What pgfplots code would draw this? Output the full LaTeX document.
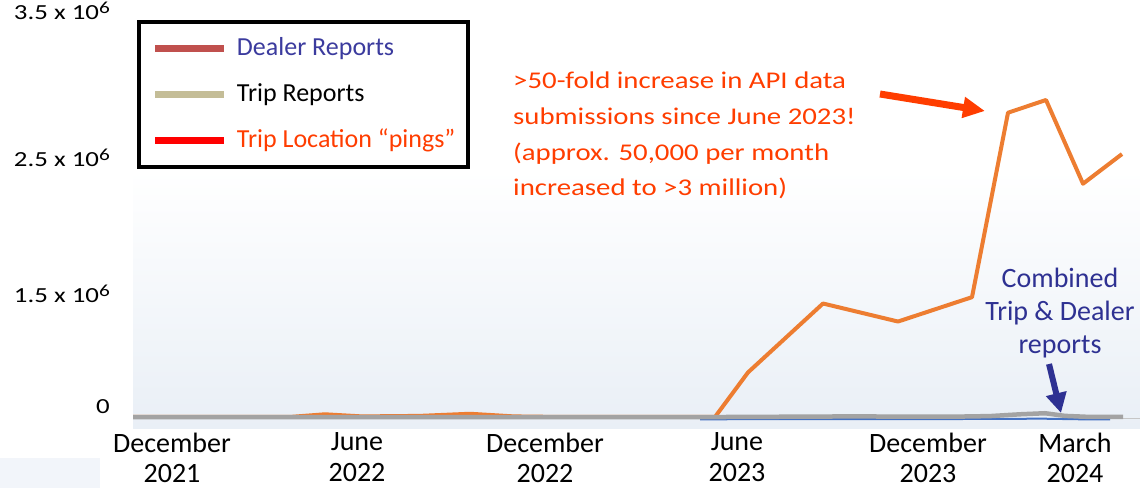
\documentclass[border=0pt]{standalone}
\usepackage{pgfplots}
\pgfplotsset{compat=1.18}
\usepackage{fontspec}
\setmainfont{Carlito}
\newfontfamily\ylabfont[FakeStretch=1.25]{Carlito}
\newfontfamily\annfont[FakeStretch=1.2]{Carlito}
\usetikzlibrary{arrows.meta}
\definecolor{orangeline}{HTML}{ED7D31}
\definecolor{grayline}{HTML}{A3A3A3}
\definecolor{blueline}{HTML}{4472C4}
\definecolor{dealerleg}{HTML}{C0504D}
\definecolor{tripleg}{HTML}{C4BD97}
\definecolor{pingleg}{HTML}{FF0000}
\definecolor{dealertext}{HTML}{3B3B9E}
\definecolor{annred}{HTML}{FF3D00}
\definecolor{combblue}{HTML}{2E3192}
\definecolor{bgblue}{HTML}{E9EFF6}
\begin{document}
\begin{tikzpicture}
\path[use as bounding box] (0pt,0pt) rectangle (1140pt,488pt);
\shade[top color=white, bottom color=bgblue] (133pt,318pt) rectangle (1140pt,60pt);
\fill[bgblue!60] (0pt,0pt) rectangle (100pt,30pt);
\begin{axis}[
  at={(133pt,66pt)}, anchor=south west,
  scale only axis, width=1007pt, height=412pt,
  xmin=133, xmax=1140, ymin=-0.0377, ymax=3.849,
  clip=false,
  axis line style={draw=none},
  major tick length=0pt, tick style={draw=none},
  xtick={172,357,545,737,928,1075},
  xticklabels={{December\\2021},{June\\2022},{December\\2022},{June\\2023},{December\\2023},{March\\2024}},
  xticklabel style={font=\fontsize{28}{30.5}\selectfont, align=center, anchor=north, inner sep=0pt, yshift=-10.5pt},
  ytick={0.047,1.085,2.368,3.755},
  yticklabels={{0\hspace{7pt}},{1.5 x 10\raisebox{6pt}{\fontsize{17}{17}\selectfont 6}},{2.5 x 10\raisebox{6pt}{\fontsize{17}{17}\selectfont 6}},{3.5 x 10\raisebox{6pt}{\fontsize{17}{17}\selectfont 6}}},
  yticklabel style={font=\ylabfont\fontsize{21.5}{21.5}\selectfont, anchor=base east, inner sep=0pt, xshift=-23pt},
  legend style={at={(0.00397,0.9757)}, anchor=north west, draw=black, line width=4pt, fill=white,
    inner xsep=13pt, inner ysep=14pt, row sep=21pt, font=\fontsize{26}{30}\selectfont,
    nodes={inner sep=0pt, text height=19pt, text depth=6pt},
    /tikz/every odd column/.append style={column sep=9pt}},
  legend cell align=left,
]
\addlegendimage{legend image code/.code={\draw[line width=7pt, dealerleg] (0pt,0pt) -- (69pt,0pt);}}
\addlegendentry{\textcolor{dealertext}{Dealer Reports}}
\addlegendimage{legend image code/.code={\draw[line width=7pt, tripleg] (0pt,0pt) -- (69pt,0pt);}}
\addlegendentry{\textcolor{black}{Trip Reports}}
\addlegendimage{legend image code/.code={\draw[line width=7pt, pingleg] (0pt,0pt) -- (69pt,0pt);}}
\addlegendentry{\textcolor{annred}{Trip Location “pings”}}

\draw[gray!45, line width=1pt] (axis cs:133,0) -- (axis cs:1140,0);
% Trip location pings
\addplot[forget plot, orangeline, line width=4pt, line join=round] coordinates {
 (133,0.01) (290,0.01) (325,0.035) (362,0.015) (420,0.02) (470,0.04) (514,0.015)
 (560,0.01) (715,0.01) (748,0.43) (823,1.08) (898,0.91) (972,1.14) (1008,2.88)
 (1046,3.00) (1083,2.21) (1122,2.49)};
% Dealer reports
\addplot[forget plot, blueline, line width=2pt] coordinates {
 (700,-0.012) (800,-0.011) (900,-0.010) (1000,-0.009) (1040,-0.006) (1080,-0.012) (1110,-0.012)};
% Trip reports
\addplot[forget plot, grayline, line width=4.5pt, line join=round] coordinates {
 (133,0.008) (400,0.008) (560,0.008) (715,0.009) (850,0.015) (950,0.012) (990,0.018)
 (1020,0.035) (1045,0.045) (1065,0.02) (1090,0.01) (1123,0.01)};
\end{axis}
\begin{scope}[shift={(0pt,488pt)}, x=1pt, y=-1pt]
 \draw[annred, line width=7pt, -{Triangle[length=22pt, width=20pt]}] (880,94) -- (985,111);
 \node[anchor=north west, inner sep=0pt, align=left, text=annred, font=\annfont\fontsize{24}{35.7}\selectfont] at (513,72)
   {>50-fold increase in API data\\submissions since June 2023!\\(approx. 50,000 per month\\increased to >3 million)};
 \node[anchor=north, inner sep=0pt, align=center, text=combblue, font=\fontsize{28}{33}\selectfont] at (1060,268)
   {Combined\\Trip \& Dealer\\reports};
 \draw[combblue, line width=6pt, -{Triangle[length=20pt, width=20pt]}] (1049,364) -- (1061,413);
\end{scope}
\end{tikzpicture}
\end{document}
